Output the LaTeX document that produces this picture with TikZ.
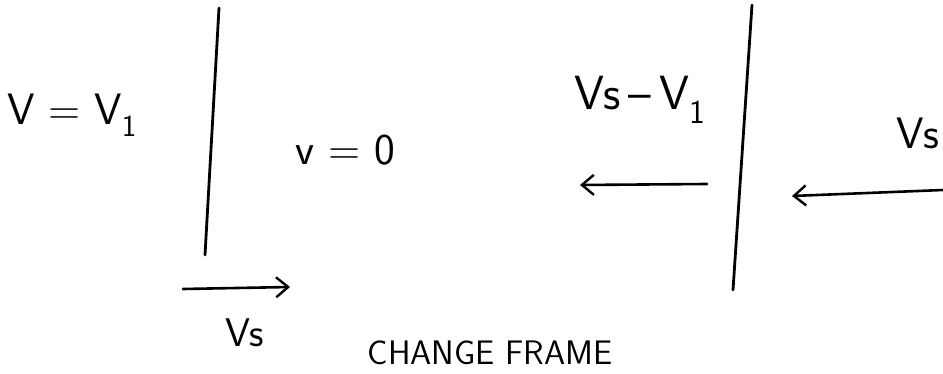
\documentclass[tikz,border=0pt]{standalone}
\usepackage{tikz}
\usetikzlibrary{arrows.meta}
\begin{document}
\begin{tikzpicture}[
    x=1pt,
    y=-1pt,
    every node/.style={font=\sffamily\fontsize{44}{48}\selectfont, inner sep=1pt},
    note/.style={font=\sffamily\fontsize{40}{44}\selectfont},
    caption/.style={font=\sffamily\fontsize{34}{38}\selectfont},
    wall/.style={line width=2.8pt, line cap=round},
    vel/.style={-{Straight Barb[length=12pt,width=20pt,line width=2.4pt]},
        line width=2.6pt, line cap=round}
]
    \useasboundingbox (0,0) rectangle (943,374);

    % lab frame, left wall
    \coordinate (walltopL) at (219,8);
    \coordinate (wallbotL) at (205,255);
    \draw[wall] (walltopL) -- (wallbotL);
    \node (vone) at (72,115) {V = V\textsubscript{1}};
    \node (vzero) at (345,150) {v = 0};
    \coordinate (velLa) at (183,289);
    \coordinate (velLb) at (290,287);
    \draw[vel] (velLa) -- (velLb);
    \node[note] (vsL) at (245,333) {Vs};

    % moving frame, right wall
    \coordinate (walltopR) at (752,5);
    \coordinate (wallbotR) at (733,290);
    \draw[wall] (walltopR) -- (wallbotR);
    \node[font=\sffamily\fontsize{48}{52}\selectfont] (vdiff) at (640,100)
        {Vs\,--\,V\textsubscript{1}};
    \coordinate (velMa) at (707,184);
    \coordinate (velMb) at (580,185);
    \draw[vel] (velMa) -- (velMb);
    \node (vsR) at (918,133) {Vs};
    \coordinate (velRa) at (943,190);
    \coordinate (velRb) at (792,196);
    \draw[vel] (velRa) -- (velRb);

    \node[caption] (frame) at (490,353) {CHANGE FRAME};
\end{tikzpicture}
\end{document}
